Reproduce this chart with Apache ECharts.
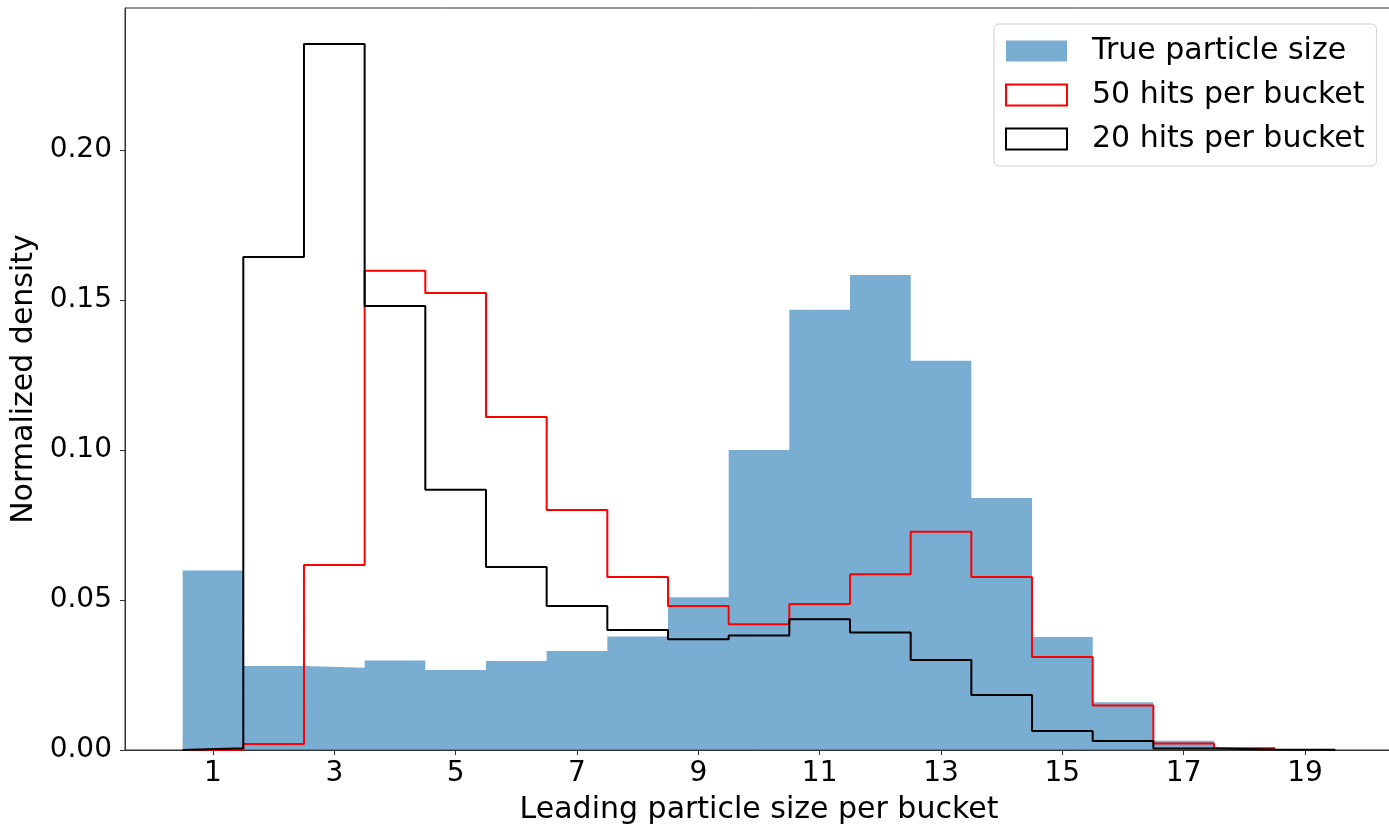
<!DOCTYPE html>
<html>
<head>
<meta charset="utf-8">
<script src="https://cdn.jsdelivr.net/npm/echarts@6/dist/echarts.min.js"></script>
<style>
  html, body { margin: 0; padding: 0; background: #fff; }
  #chart { width: 1389px; height: 826px; }
</style>
</head>
<body>
<div id="chart"></div>
<script>
// bin centres (leading particle size), bins are 1 wide
const binCenters = [1, 2, 3, 4, 5, 6, 7, 8, 9, 10, 11, 12, 13, 14, 15, 16, 17, 18, 19]
const trueSize = [0.0598, 0.0280, 0.0274, 0.0298, 0.0267, 0.0297, 0.0330, 0.0378, 0.0509, 0.1000,
  0.1467, 0.1583, 0.1297, 0.0840, 0.0377, 0.0159, 0.0031, 0, 0]
const hits50 = [0.0001, 0.0020, 0.0617, 0.1597, 0.1523, 0.1110, 0.0800, 0.0577, 0.0480, 0.0419,
  0.0487, 0.0586, 0.0727, 0.0577, 0.0310, 0.0148, 0.0022, 0.0006]
const hits20 = [0.0006, 0.1643, 0.2353, 0.1480, 0.0867, 0.0610, 0.0480, 0.0400, 0.0369, 0.0382,
  0.0436, 0.0392, 0.0300, 0.0183, 0.0063, 0.0030, 0.0005, 0.0002, 0.0001]
const xTicks = [1, 3, 5, 7, 9, 11, 13, 15, 17, 19]
const yTicks = [0, 0.05, 0.10, 0.15, 0.20]

const binWidth = 1
const font = 'DejaVu Sans'
const blue = 'rgba(31,119,180,0.6)'

// outline of a step histogram, built from bin edges
function stepPoints (values) {
  const pts = []
  values.forEach((v, i) => {
    const left = binCenters[i] - binWidth / 2
    const right = binCenters[i] + binWidth / 2
    if (i === 0) pts.push([left, 0])
    pts.push([left, v])
    pts.push([right, v])
    if (i === values.length - 1) pts.push([right, 0])
  })
  return pts
}

const chart = echarts.init(document.getElementById('chart'))
chart.setOption({
  animation: false,
  textStyle: { fontFamily: font },
  grid: {
    left: 125,
    top: 8,
    right: -4,
    bottom: 76,
    outerBoundsMode: 'none',
    containLabel: false,
    show: true,
    borderColor: '#333',
    borderWidth: 1
  },
  legend: {
    left: 994,
    top: 24,
    orient: 'vertical',
    itemWidth: 61,
    itemHeight: 21,
    itemGap: 14,
    padding: [12, 12, 12, 11],
    borderColor: '#d0d0d0',
    borderWidth: 1,
    borderRadius: 5,
    textStyle: { fontSize: 30, color: '#000', padding: [0, 0, 0, 20] },
    data: [
      { name: 'True particle size', icon: 'rect', itemStyle: { color: blue, borderWidth: 0 } },
      { name: '50 hits per bucket', icon: 'rect', itemStyle: { color: '#fff', borderColor: '#ff0000', borderWidth: 2 } },
      { name: '20 hits per bucket', icon: 'rect', itemStyle: { color: '#fff', borderColor: '#000', borderWidth: 2 } }
    ]
  },
  xAxis: {
    type: 'value',
    min: -0.45,
    max: 20.45,
    name: 'Leading particle size per bucket',
    nameLocation: 'middle',
    nameGap: 45,
    nameTextStyle: { fontSize: 30, color: '#000' },
    axisLine: { show: true, onZero: false, lineStyle: { color: '#333', width: 1 } },
    axisTick: { show: true, customValues: xTicks, length: 5, lineStyle: { color: '#333' } },
    axisLabel: { customValues: xTicks, fontSize: 28, color: '#000', margin: 10 },
    splitLine: { show: false }
  },
  yAxis: {
    type: 'value',
    min: 0,
    max: 0.2473,
    name: 'Normalized density',
    nameLocation: 'middle',
    nameGap: 79,
    nameTextStyle: { fontSize: 30, color: '#000' },
    axisLine: { show: true, onZero: false, lineStyle: { color: '#333', width: 1 } },
    axisTick: { show: true, customValues: yTicks, length: 5, lineStyle: { color: '#333' } },
    axisLabel: {
      customValues: yTicks,
      fontSize: 28,
      color: '#000',
      margin: 13,
      formatter: v => v.toFixed(2)
    },
    splitLine: { show: false }
  },
  series: [
    {
      // filled histogram as one area so neighbouring bins show no seams
      name: 'True particle size',
      type: 'line',
      data: stepPoints(trueSize),
      symbol: 'none',
      lineStyle: { width: 0, opacity: 0 },
      areaStyle: { color: blue, opacity: 1, origin: 0 },
      itemStyle: { color: blue },
      z: 1
    },
    {
      name: '50 hits per bucket',
      type: 'line',
      data: stepPoints(hits50),
      symbol: 'none',
      lineStyle: { color: '#ff0000', width: 2 },
      itemStyle: { color: '#ff0000' },
      z: 2
    },
    {
      name: '20 hits per bucket',
      type: 'line',
      data: stepPoints(hits20),
      symbol: 'none',
      lineStyle: { color: '#000', width: 2 },
      itemStyle: { color: '#000' },
      z: 3
    }
  ]
})
</script>
</body>
</html>
